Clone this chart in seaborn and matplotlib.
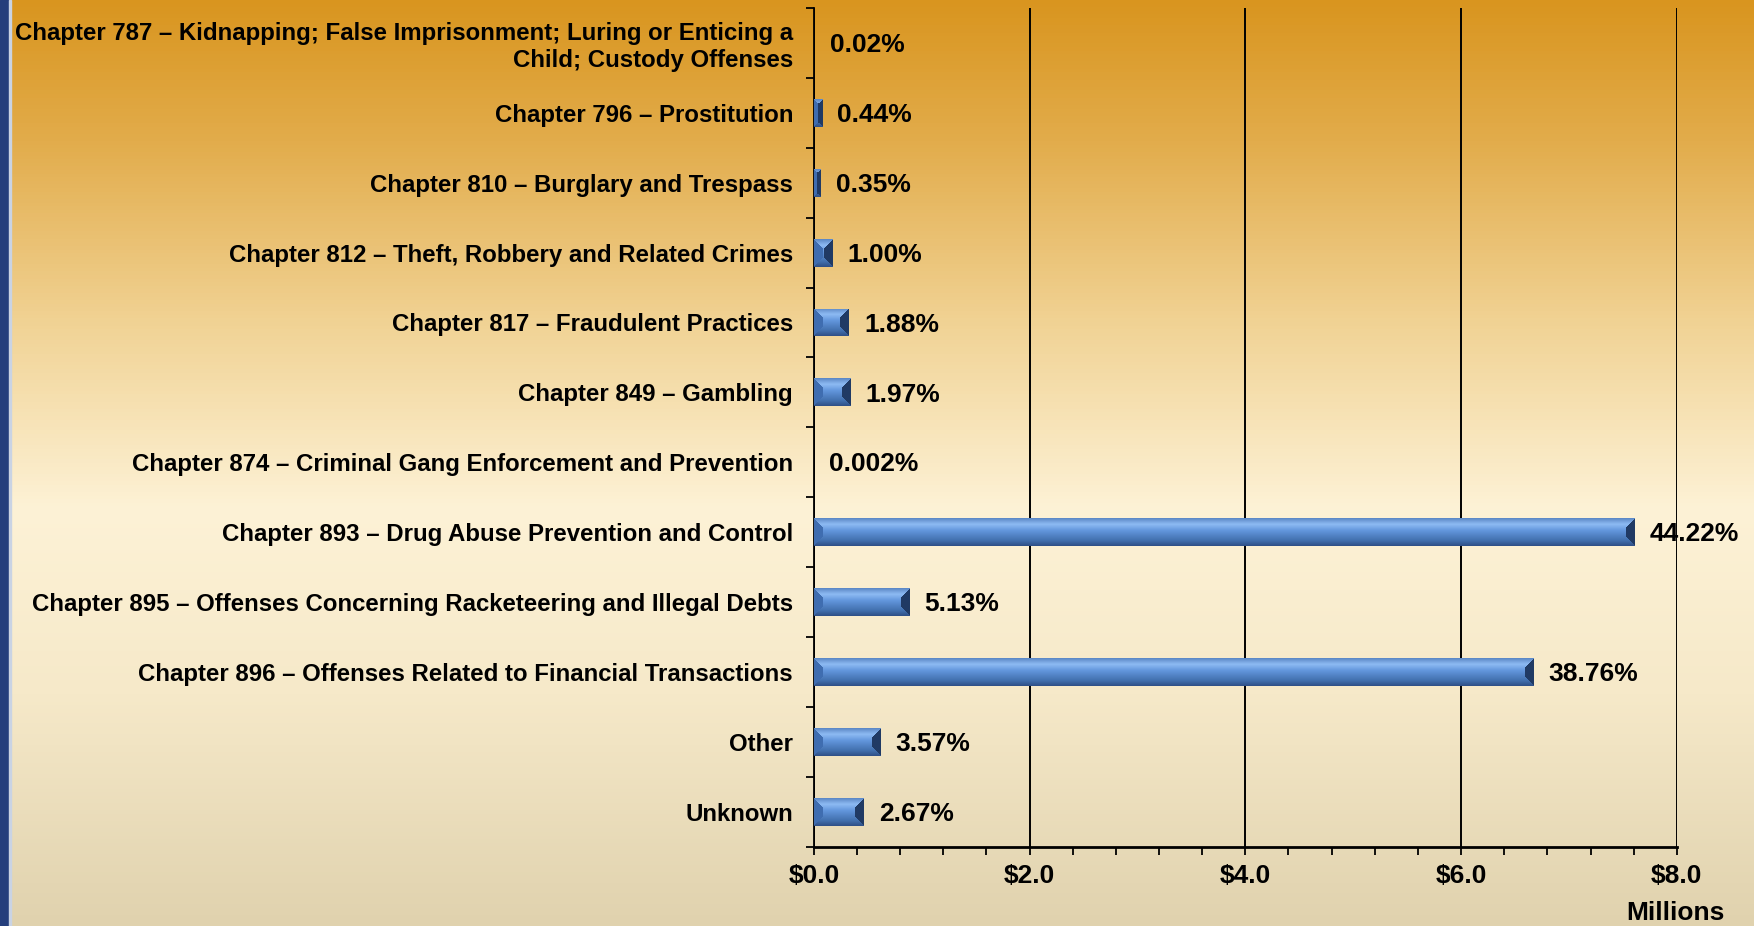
import numpy as np
import matplotlib
matplotlib.use("Agg")
import matplotlib.pyplot as plt
from matplotlib.colors import LinearSegmentedColormap, to_rgb
import seaborn as sns

# data: dollar amounts (millions) by statute chapter, with share of total
categories = [
    "Chapter 787 \u2013 Kidnapping; False Imprisonment; Luring or Enticing a\nChild; Custody Offenses",
    "Chapter 796 \u2013 Prostitution",
    "Chapter 810 \u2013 Burglary and Trespass",
    "Chapter 812 \u2013 Theft, Robbery and Related Crimes",
    "Chapter 817 \u2013 Fraudulent Practices",
    "Chapter 849 \u2013 Gambling",
    "Chapter 874 \u2013 Criminal Gang Enforcement and Prevention",
    "Chapter 893 \u2013 Drug Abuse Prevention and Control",
    "Chapter 895 \u2013 Offenses Concerning Racketeering and Illegal Debts",
    "Chapter 896 \u2013 Offenses Related to Financial Transactions",
    "Other",
    "Unknown",
]
amounts = [0.0034, 0.076, 0.060, 0.172, 0.323, 0.339, 0.0003, 7.61, 0.882, 6.67, 0.614, 0.459]
shares = ["0.02%", "0.44%", "0.35%", "1.00%", "1.88%", "1.97%", "0.002%",
          "44.22%", "5.13%", "38.76%", "3.57%", "2.67%"]
x_ticks = [0, 2, 4, 6, 8]
x_ticklabels = ["$0.0", "$2.0", "$4.0", "$6.0", "$8.0"]

sns.set_style("white")
plt.rcParams["font.family"] = ["Liberation Sans", "DejaVu Sans"]
plt.rcParams["font.weight"] = "bold"
plt.rcParams["text.color"] = "black"
plt.rcParams["xtick.color"] = "black"
plt.rcParams["ytick.color"] = "black"

fig = plt.figure(figsize=(17.54, 9.26), dpi=100)

# background: orange-to-cream gradient with a blue strip on the left
bg = fig.add_axes([0, 0, 1, 1], zorder=-10)
bg_cmap = LinearSegmentedColormap.from_list("bg", [
    (0.0, "#D9951F"), (0.15, "#E2AC4B"), (0.35, "#F1D395"),
    (0.55, "#FDF2D6"), (0.75, "#F6E9C9"), (1.0, "#E0D2AE")])
bg.imshow(np.linspace(0, 1, 256)[:, None], cmap=bg_cmap, aspect="auto",
          extent=[0, 1, 0, 1], origin="upper")
bg.axvspan(0, 9 / 1754, color="#243E7C")
bg.axvspan(9 / 1754, 11 / 1754, color="#C9D3E4")
bg.set_xlim(0, 1)
bg.set_ylim(0, 1)
bg.axis("off")

ax = fig.add_axes([0.464, 0.0853, 0.492, 0.9063])
ax.set_facecolor("none")

sns.barplot(x=amounts, y=categories, orient="h", width=0.4,
            color="#4F81BD", edgecolor="none", ax=ax)

ax.set_xlim(0, 8)
ax.set_ylim(len(categories) - 0.5, -0.5)

face_cmap = LinearSegmentedColormap.from_list("face", [
    (0.0, "#5A86C4"), (0.22, "#8DBAF3"), (0.45, "#6296DC"),
    (0.8, "#4270AE"), (1.0, "#2E4F86")])


def bevel(w_px, h_px):
    # vertical sheen plus darker triangular end facets
    h = max(int(round(h_px)), 2)
    w = max(int(round(w_px)), 1)
    yy, xx = np.mgrid[0:h, 0:w] + 0.5
    img = face_cmap(yy / h)[..., :3]
    b = 0.32 * h
    d = np.stack([yy, h - yy, xx, w - xx])
    which = d.argmin(axis=0)
    inside = d.min(axis=0) < b
    img[inside & (which == 2)] = to_rgb("#3F6DB0")
    img[inside & (which == 3)] = to_rgb("#203A64")
    return img


for patch in ax.patches:
    x0, y0 = patch.get_x(), patch.get_y()
    x1, y1 = x0 + patch.get_width(), y0 + patch.get_height()
    p0 = ax.transData.transform((x0, y0))
    p1 = ax.transData.transform((x1, y1))
    w_px, h_px = abs(p1[0] - p0[0]), abs(p1[1] - p0[1])
    if w_px < 0.5:
        continue
    im = ax.imshow(bevel(w_px, h_px), extent=(x0, x1, y1, y0), origin="upper",
                   aspect="auto", interpolation="nearest", zorder=3)
    im.set_clip_path(patch)

for i, (v, s) in enumerate(zip(amounts, shares)):
    ax.annotate(s, xy=(v, i), xytext=(11, -1.5), textcoords="offset points",
                va="center", ha="left", fontsize=19, fontweight="bold", zorder=5)

ax.set_xlim(0, 8)
ax.set_ylim(len(categories) - 0.5, -0.5)

# axes styling
for side in ("top", "right"):
    ax.spines[side].set_visible(False)
ax.spines["left"].set_color("black")
ax.spines["left"].set_linewidth(1.3)
ax.spines["bottom"].set_color("black")
ax.spines["bottom"].set_linewidth(2)

ax.set_xticks(x_ticks)
ax.set_xticklabels(x_ticklabels, fontsize=19, fontweight="bold")
ax.set_xticks(np.arange(0, 8.01, 0.4), minor=True)
ax.tick_params(axis="x", which="both", direction="out", length=6, width=1.3,
               color="black", pad=6, bottom=True)
ax.grid(axis="x", which="major", color="black", linewidth=1.4)
ax.set_axisbelow(True)

ax.set_yticks(range(len(categories)))
ax.set_yticklabels(categories, fontsize=17.3, fontweight="bold")
ax.set_yticks(np.arange(-0.5, len(categories), 1), minor=True)
ax.tick_params(axis="y", which="major", length=0, pad=15)
ax.tick_params(axis="y", which="minor", direction="out", length=6, width=1.3,
               color="black", left=True)
ax.set_xlabel("")
ax.set_ylabel("")

fig.text(0.955, 0.014, "Millions", ha="center", va="center", fontsize=19, fontweight="bold")

fig.savefig("out.png", dpi=100)
